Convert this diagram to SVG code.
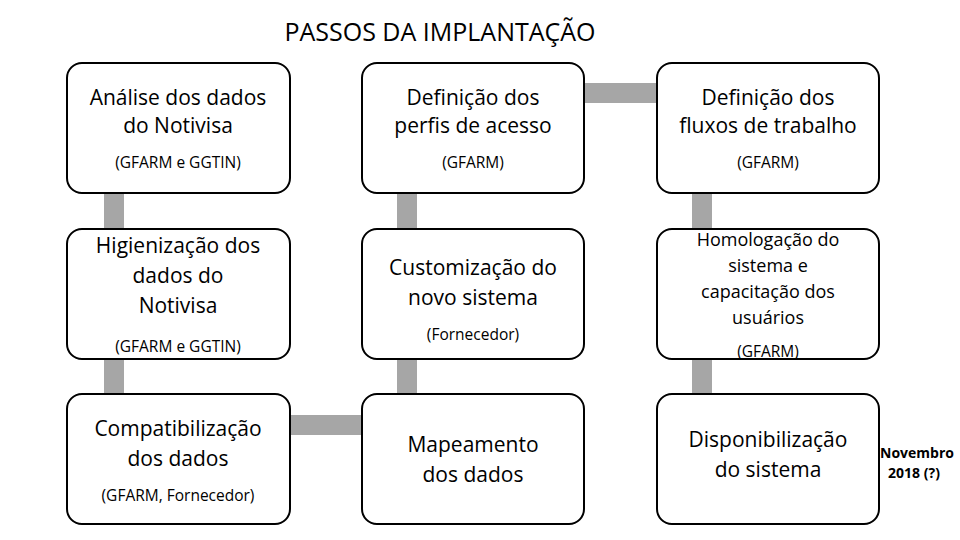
<svg xmlns="http://www.w3.org/2000/svg" width="960" height="540" viewBox="0 0 960 540">
<style>
.b{fill:#fff;stroke:#000;stroke-width:2}
.c{fill:#a6a6a6}
text{font-family:"Open Sans","Liberation Sans",sans-serif;fill:#000;text-anchor:middle}
.m{font-size:21px}
.s{font-size:15.5px}
</style>
<rect width="960" height="540" fill="#fff"/>
<text x="440" y="41" style="font-size:25px" font-family="Liberation Sans">PASSOS DA IMPLANTAÇÃO</text>
<g id="connectors">
<rect class="c" x="104" y="192" width="20" height="38"/>
<rect class="c" x="397" y="192" width="20" height="38"/>
<rect class="c" x="692" y="192" width="20" height="38"/>
<rect class="c" x="104" y="358" width="20" height="38"/>
<rect class="c" x="397" y="358" width="20" height="38"/>
<rect class="c" x="692" y="358" width="20" height="38"/>
<rect class="c" x="583" y="83" width="75" height="20"/>
<rect class="c" x="289" y="415" width="74" height="20"/>
</g>
<g id="n1"><rect class="b" x="67" y="63" width="223" height="130" rx="15"/>
<text class="m" x="178" y="105">Análise dos dados</text><text class="m" x="178" y="133">do Notivisa</text><text class="s" x="178" y="168">(GFARM e GGTIN)</text></g>
<g id="n2"><rect class="b" x="362" y="63" width="222" height="130" rx="15"/>
<text class="m" x="473" y="105">Definição dos</text><text class="m" x="473" y="133">perfis de acesso</text><text class="s" x="473" y="168">(GFARM)</text></g>
<g id="n3"><rect class="b" x="657" y="63" width="222" height="130" rx="15"/>
<text class="m" x="768" y="105">Definição dos</text><text class="m" x="768" y="133">fluxos de trabalho</text><text class="s" x="768" y="168">(GFARM)</text></g>
<g id="n4"><rect class="b" x="67" y="229" width="223" height="130" rx="15"/>
<text class="m" x="178" y="253">Higienização dos</text><text class="m" x="178" y="283">dados do</text><text class="m" x="178" y="313">Notivisa</text><text class="s" x="178" y="352">(GFARM e GGTIN)</text></g>
<g id="n5"><rect class="b" x="362" y="229" width="222" height="130" rx="15"/>
<text class="m" x="473" y="275">Customização do</text><text class="m" x="473" y="305">novo sistema</text><text class="s" x="473" y="340">(Fornecedor)</text></g>
<g id="n6"><rect class="b" x="657" y="229" width="222" height="130" rx="15"/>
<text x="768" y="246" style="font-size:18px">Homologação do</text><text x="768" y="272" style="font-size:18px">sistema e</text><text x="768" y="298" style="font-size:18px">capacitação dos</text><text x="768" y="324" style="font-size:18px">usuários</text><text class="s" x="768" y="357">(GFARM)</text></g>
<g id="n7"><rect class="b" x="67" y="394" width="223" height="130" rx="15"/>
<text class="m" x="178" y="436">Compatibilização</text><text class="m" x="178" y="466">dos dados</text><text class="s" x="178" y="501">(GFARM, Fornecedor)</text></g>
<g id="n8"><rect class="b" x="362" y="394" width="222" height="130" rx="15"/>
<text class="m" x="473" y="452">Mapeamento</text><text class="m" x="473" y="482">dos dados</text></g>
<g id="n9"><rect class="b" x="657" y="394" width="222" height="130" rx="15"/>
<text class="m" x="768" y="447">Disponibilização</text><text class="m" x="768" y="477">do sistema</text></g>
<text x="917" y="458" style="font-size:14px;font-weight:bold" font-family="Liberation Sans">Novembro</text>
<text x="914" y="478" style="font-size:14px;font-weight:bold" font-family="Liberation Sans">2018 (?)</text>
</svg>
